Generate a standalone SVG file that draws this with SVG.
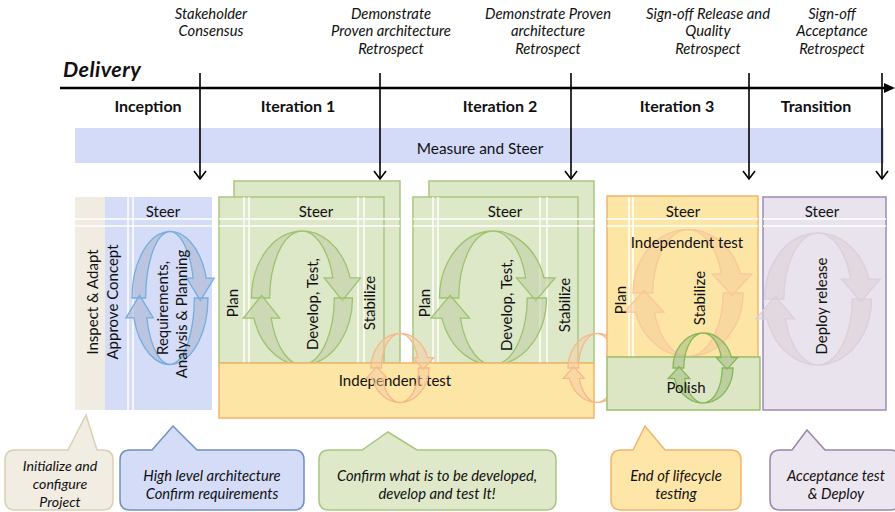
<svg xmlns="http://www.w3.org/2000/svg" xmlns:xlink="http://www.w3.org/1999/xlink" width="895" height="512" viewBox="0 0 895 512">
<style>
text{font-family:Lato,"Open Sans","Liberation Sans",sans-serif;fill:#111}
.ms{font-style:italic;font-size:14.8px;text-anchor:middle}
.ph{font-weight:bold;font-size:16px;text-anchor:middle}
.t{font-size:15px;text-anchor:middle}
.co{font-style:italic;font-size:14.8px;text-anchor:middle}
.arr{stroke:#000;stroke-width:1.6;fill:none}
.wl{stroke:#fff;stroke-width:1.5}
.cyc path{vector-effect:non-scaling-stroke;stroke-width:1.3}
.cb{fill:#a6b2cc;fill-opacity:.55;stroke:#74aee0}
.cg{fill:#c3cfa8;fill-opacity:.6;stroke:#9cc46c}
.co1{fill:#f4c89a;fill-opacity:.45;stroke:#f9c79a}
.cp{fill:#a8bf88;fill-opacity:.6;stroke:#86b657}
.ct{fill:#dcd0d6;fill-opacity:.55;stroke:#dccfdc}
.cs{fill:#f6caa2;fill-opacity:.5;stroke:#f5b98a}
.grn{fill:#dde8c8;stroke:#a9c77f;stroke-width:1.5}
</style>
<defs>
<g id="cyc" class="cyc">
<path d="M -50 0 A 50 50 0 0 1 47.7 -15 L 58 -15 L 40 2 L 22 -15 L 30.5 -15 A 32 50 0 0 0 -32 0 Z"/>
<path transform="rotate(180)" d="M -50 0 A 50 50 0 0 1 47.7 -15 L 58 -15 L 40 2 L 22 -15 L 30.5 -15 A 32 50 0 0 0 -32 0 Z"/>
</g>
</defs>

<g id="milestones">
<text class="ms" x="211" y="19">Stakeholder</text>
<text class="ms" x="211" y="36">Consensus</text>
<text class="ms" x="391" y="19">Demonstrate</text>
<text class="ms" x="391" y="36">Proven architecture</text>
<text class="ms" x="391" y="54">Retrospect</text>
<text class="ms" x="548" y="19">Demonstrate Proven</text>
<text class="ms" x="548" y="36">architecture</text>
<text class="ms" x="548" y="54">Retrospect</text>
<text class="ms" x="708" y="19">Sign-off Release and</text>
<text class="ms" x="708" y="36">Quality</text>
<text class="ms" x="708" y="54">Retrospect</text>
<text class="ms" x="832" y="19">Sign-off</text>
<text class="ms" x="832" y="36">Acceptance</text>
<text class="ms" x="832" y="54">Retrospect</text>
</g>

<g id="delivery">
<text x="63" y="77" style="font-weight:bold;font-style:italic;font-size:21.5px;letter-spacing:0.4px">Delivery</text>
</g>

<g id="phases">
<text class="ph" x="148" y="112">Inception</text>
<text class="ph" x="298" y="112">Iteration 1</text>
<text class="ph" x="500" y="112">Iteration 2</text>
<text class="ph" x="677" y="112">Iteration 3</text>
<text class="ph" x="816" y="112">Transition</text>
</g>

<g id="measure">
<rect x="75" y="128" width="809" height="35" fill="#d4dbf9"/>
<text class="t" x="480" y="154" style="font-size:15.4px">Measure and Steer</text>
</g>

<g id="inception">
<rect x="75" y="197" width="30" height="213" fill="#f1ece1"/>
<rect x="105" y="197" width="107" height="213" fill="#d5dcf8"/>
<line class="wl" x1="128" y1="197" x2="128" y2="410"/>
<line class="wl" x1="133" y1="197" x2="133" y2="410"/>
<line class="wl" x1="75" y1="219" x2="212" y2="219"/>
<line class="wl" x1="75" y1="226" x2="212" y2="226"/>
<use href="#cyc" class="cb" transform="translate(170,298) scale(0.76,1.33)"/>
<text class="t" x="163" y="217">Steer</text>
<text class="t" transform="translate(98,302) rotate(-90)">Inspect &amp; Adapt</text>
<text class="t" transform="translate(118,302) rotate(-90)">Approve Concept</text>
<text class="t" transform="translate(168,308) rotate(-90)">Requirements,</text>
<text class="t" transform="translate(187,314) rotate(-90)">Analysis &amp; Planning</text>
</g>

<g id="iteration1">
<rect class="grn" x="234" y="181" width="166" height="182"/>
<rect class="grn" x="219" y="197" width="165" height="166"/>
<line class="wl" x1="244" y1="197" x2="244" y2="363"/>
<line class="wl" x1="249" y1="197" x2="249" y2="363"/>
<line class="wl" x1="358" y1="197" x2="358" y2="363"/>
<line class="wl" x1="364" y1="197" x2="364" y2="363"/>
<line class="wl" x1="219" y1="219" x2="400" y2="219"/>
<line class="wl" x1="219" y1="226" x2="400" y2="226"/>
<use href="#cyc" class="cg" transform="translate(302,298) scale(1.01,1.34)"/>
<text class="t" x="316" y="217">Steer</text>
<text class="t" transform="translate(238,303) rotate(-90)">Plan</text>
<text class="t" transform="translate(318,304) rotate(-90)">Develop, Test,</text>
<text class="t" transform="translate(375,303) rotate(-90)">Stabilize</text>
</g>

<g id="iteration2">
<rect class="grn" x="429" y="181" width="165" height="182"/>
<rect class="grn" x="413" y="197" width="165" height="166"/>
<line class="wl" x1="433" y1="197" x2="433" y2="363"/>
<line class="wl" x1="438" y1="197" x2="438" y2="363"/>
<line class="wl" x1="540" y1="197" x2="540" y2="363"/>
<line class="wl" x1="547" y1="197" x2="547" y2="363"/>
<line class="wl" x1="413" y1="219" x2="594" y2="219"/>
<line class="wl" x1="413" y1="226" x2="594" y2="226"/>
<use href="#cyc" class="cg" transform="translate(493,298) scale(1.07,1.34)"/>
<text class="t" x="505" y="217">Steer</text>
<text class="t" transform="translate(430,303) rotate(-90)">Plan</text>
<text class="t" transform="translate(512,305) rotate(-90)">Develop, Test,</text>
<text class="t" transform="translate(570,305) rotate(-90)">Stabilize</text>
</g>

<g id="independent-test">
<rect x="219" y="363" width="375" height="55" fill="#fde5a5" stroke="#f6b26b" stroke-width="1.5"/>
<text class="t" x="395" y="386">Independent test</text>
<use href="#cyc" class="cs" transform="translate(400,368) scale(0.58,0.69)"/>
<use href="#cyc" class="cs" transform="translate(597,368) scale(0.58,0.69)"/>
</g>

<g id="iteration3">
<rect x="607" y="196" width="151" height="161" fill="#fde5a5" stroke="#f6b26b" stroke-width="1.5"/>
<line class="wl" x1="629" y1="197" x2="629" y2="357"/>
<line class="wl" x1="633" y1="197" x2="633" y2="357"/>
<line class="wl" x1="607" y1="219" x2="758" y2="219"/>
<line class="wl" x1="607" y1="226" x2="758" y2="226"/>
<use href="#cyc" class="co1" transform="translate(688,293) scale(1.1,1.27)"/>
<text class="t" x="683" y="217">Steer</text>
<text class="t" x="687" y="248">Independent test</text>
<text class="t" transform="translate(626,300) rotate(-90)">Plan</text>
<text class="t" transform="translate(705,298) rotate(-90)">Stabilize</text>
</g>

<g id="polish">
<rect x="607" y="357" width="153" height="53" fill="#dce6c4" stroke="#9cc16a" stroke-width="1.5"/>
<use href="#cyc" class="cp" transform="translate(703,368) scale(0.6,0.7)"/>
<text class="t" x="686" y="393">Polish</text>
</g>

<g id="transition">
<rect x="763" y="197" width="123" height="213" fill="#e8e3ec" stroke="#a08ab4" stroke-width="1.5"/>
<line class="wl" x1="763" y1="219" x2="886" y2="219"/>
<line class="wl" x1="763" y1="226" x2="886" y2="226"/>
<use href="#cyc" class="ct" transform="translate(818,299) scale(1.07,1.32)"/>
<text class="t" x="822" y="217">Steer</text>
<text class="t" transform="translate(827,306) rotate(-90)">Deploy release</text>
</g>

<g id="connectors">
<line x1="60" y1="88" x2="886" y2="88" stroke="#000" stroke-width="2.5"/>
<path d="M 884 83 L 895 88 L 884 93 Z" fill="#000"/>
<line class="arr" x1="200" y1="73" x2="200" y2="179"/>
<path class="arr" d="M 194 171 L 200 179 L 206 171"/>
<line class="arr" x1="380" y1="73" x2="380" y2="179"/>
<path class="arr" d="M 374 171 L 380 179 L 386 171"/>
<line class="arr" x1="571" y1="73" x2="571" y2="179"/>
<path class="arr" d="M 565 171 L 571 179 L 577 171"/>
<line class="arr" x1="749" y1="73" x2="749" y2="179"/>
<path class="arr" d="M 743 171 L 749 179 L 755 171"/>
<line class="arr" x1="882" y1="73" x2="882" y2="179"/>
<path class="arr" d="M 876 171 L 882 179 L 888 171"/>
</g>

<g id="callout-initialize">
<path d="M 15 450 H 68 L 86 415 L 97 450 H 103 Q 113 450 113 460 V 500 Q 113 510 103 510 H 15 Q 5 510 5 500 V 460 Q 5 450 15 450 Z" fill="#f1ede2" stroke="#d9d1b5" stroke-width="1.5"/>
<text class="co" x="60" y="471" style="font-size:14.2px">Initialize and</text>
<text class="co" x="60" y="489" style="font-size:14.2px">configure</text>
<text class="co" x="60" y="507" style="font-size:14.2px">Project</text>
</g>

<g id="callout-architecture">
<path d="M 130 450 H 152 L 173 426 L 197 450 H 294 Q 304 450 304 460 V 500 Q 304 510 294 510 H 130 Q 120 510 120 500 V 460 Q 120 450 130 450 Z" fill="#d5dcf8" stroke="#6f8fbf" stroke-width="1.5"/>
<text class="co" x="212" y="481">High level architecture</text>
<text class="co" x="212" y="499">Confirm requirements</text>
</g>

<g id="callout-confirm">
<path d="M 329 450 H 362 L 388 432 L 417 450 H 546 Q 556 450 556 460 V 500 Q 556 510 546 510 H 329 Q 319 510 319 500 V 460 Q 319 450 329 450 Z" fill="#dfe8c9" stroke="#a9c77f" stroke-width="1.5"/>
<text class="co" x="437" y="481">Confirm what is to be developed,</text>
<text class="co" x="437" y="499">develop and test It!</text>
</g>

<g id="callout-lifecycle">
<path d="M 621 450 H 633 L 645 426 L 665 450 H 731 Q 741 450 741 460 V 500 Q 741 510 731 510 H 621 Q 611 510 611 500 V 460 Q 611 450 621 450 Z" fill="#fde6a8" stroke="#f5b36c" stroke-width="1.5"/>
<text class="co" x="676" y="481">End of lifecycle</text>
<text class="co" x="676" y="499">testing</text>
</g>

<g id="callout-deploy">
<path d="M 780 450 H 792 L 807 430 L 825 450 H 890 Q 900 450 900 460 V 500 Q 900 510 890 510 H 780 Q 770 510 770 500 V 460 Q 770 450 780 450 Z" fill="#ebe6ef" stroke="#9a85ad" stroke-width="1.5"/>
<text class="co" x="836" y="481">Acceptance test</text>
<text class="co" x="836" y="499">&amp; Deploy</text>
</g>
</svg>
